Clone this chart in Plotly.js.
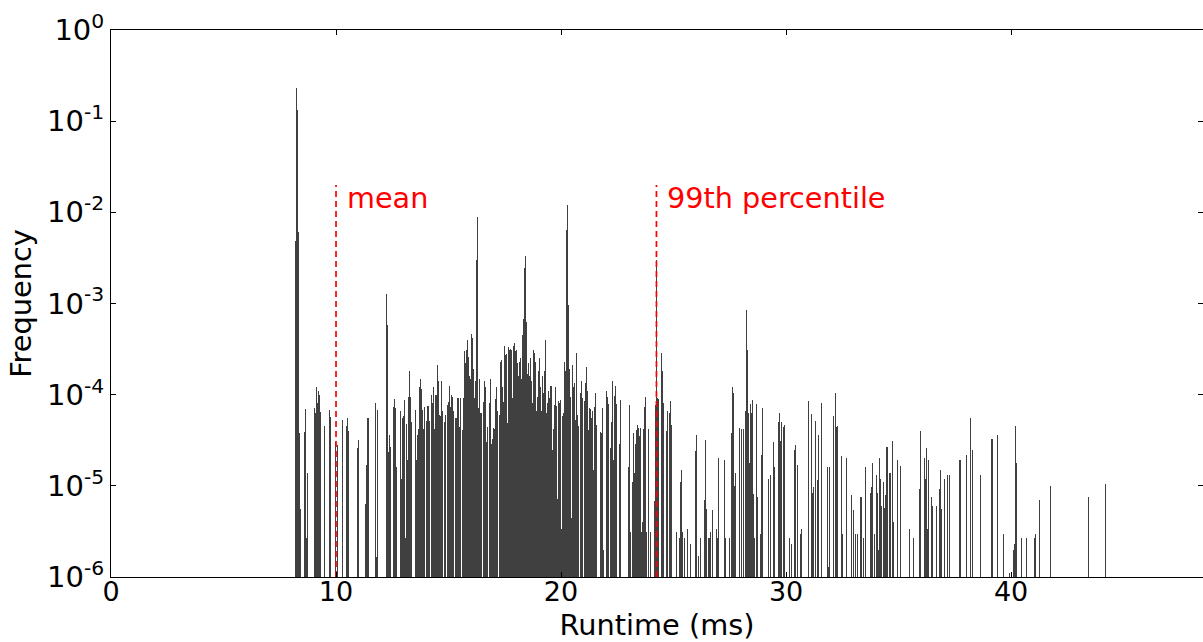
<!DOCTYPE html>
<html>
<head>
<meta charset="utf-8">
<script src="https://cdn.plot.ly/plotly-3.0.1.min.js"></script>
<style>html,body{margin:0;padding:0;background:#fff;}#chart{width:1203px;height:642px;}</style>
</head>
<body>
<div id="chart"></div>
<script>
// Histogram bin centres (ms)
var runtimeMs = [
8.200,8.244,8.289,8.333,8.378,8.422,8.600,8.644,8.689,8.733,
9.044,9.089,9.133,9.178,9.222,9.267,9.311,9.489,9.711,9.756,9.978,
10.067,10.289,10.467,10.511,10.556,10.956,11.000,11.311,11.356,11.400,11.444,11.756,11.800,11.844,
12.244,12.289,12.333,12.378,12.422,12.556,12.600,12.644,12.689,12.867,12.911,12.956,
13.000,13.044,13.089,13.133,13.178,13.222,13.267,13.311,13.356,13.533,13.578,13.622,13.667,13.711,13.756,13.800,13.844,13.889,13.933,
14.022,14.067,14.111,14.156,14.244,14.289,14.333,14.378,14.422,14.467,14.511,14.556,14.600,14.644,14.689,14.733,14.822,14.867,14.956,
15.000,15.044,15.089,15.133,15.178,15.222,15.311,15.356,15.400,15.444,15.489,15.533,15.622,15.667,15.711,15.756,15.800,15.844,15.889,15.933,15.978,
16.022,16.067,16.111,16.156,16.200,16.244,16.289,16.333,16.378,16.422,16.467,16.556,16.600,16.644,16.689,16.733,16.822,16.867,16.911,16.956,
17.000,17.044,17.089,17.133,17.178,17.267,17.311,17.356,17.400,17.444,17.489,17.533,17.578,17.622,17.667,17.711,17.756,17.800,17.844,17.889,17.933,17.978,
18.022,18.067,18.111,18.156,18.200,18.244,18.289,18.333,18.378,18.422,18.467,18.511,18.556,18.600,18.644,18.689,18.733,18.778,18.822,18.867,18.911,18.956,
19.000,19.044,19.089,19.133,19.178,19.222,19.267,19.311,19.356,19.400,19.444,19.489,19.533,19.578,19.622,19.667,19.711,19.756,19.800,19.844,19.889,19.933,19.978,
20.022,20.067,20.111,20.156,20.200,20.244,20.289,20.333,20.378,20.422,20.467,20.511,20.556,20.600,20.644,20.689,20.733,20.778,20.867,20.911,20.956,
21.044,21.089,21.133,21.178,21.222,21.267,21.311,21.356,21.400,21.444,21.489,21.533,21.578,21.756,21.800,21.844,21.889,
22.022,22.067,22.111,22.200,22.244,22.289,22.333,22.378,22.422,22.467,22.600,22.644,
23.000,23.044,23.089,23.178,23.222,23.267,23.311,23.356,23.400,23.444,23.489,23.533,23.578,23.622,23.667,23.711,23.756,23.800,23.889,23.978,
24.156,24.200,24.244,24.289,24.333,24.467,24.511,24.556,24.689,24.733,24.822,24.867,24.911,
25.133,25.267,25.311,25.356,25.400,25.489,25.622,25.756,25.978,26.022,26.111,26.200,26.378,26.422,26.467,26.556,26.600,26.644,26.733,26.911,26.956,
27.000,27.267,27.311,27.489,27.578,27.622,27.667,27.711,27.756,27.933,
28.022,28.111,28.200,28.244,28.289,28.333,28.378,28.422,28.467,28.511,28.556,28.600,28.689,28.733,28.867,28.911,28.956,
29.222,29.311,29.444,29.489,29.667,29.711,29.756,29.800,29.889,29.933,
30.156,30.244,30.378,30.422,30.511,30.644,30.689,31.000,31.133,31.178,31.222,31.311,31.400,31.444,31.578,31.844,31.889,31.933,
32.111,32.200,32.244,32.289,32.467,32.511,32.689,32.911,33.000,33.089,33.178,33.311,33.356,33.444,33.533,33.756,33.800,33.844,33.933,
34.022,34.067,34.111,34.156,34.200,34.244,34.333,34.378,34.422,34.467,34.511,34.600,34.644,34.733,34.778,34.956,
35.089,35.489,35.667,35.933,35.978,36.156,36.200,36.244,36.289,36.333,36.467,36.511,36.689,36.822,36.867,36.911,
37.044,37.178,37.267,37.711,37.756,38.022,38.200,38.289,38.644,39.133,39.178,39.400,39.667,39.933,
40.111,40.156,40.200,40.244,40.467,40.689,41.044,41.089,41.267,41.756,43.444,44.200
];
// Relative frequency of each bin
var frequency = [
4.9e-3,0.23,0.133,6.1e-3,3.8e-5,5.6e-6,3.9e-5,7.0e-5,2.7e-6,1.4e-5,
7.2e-5,6.3e-5,1.2e-4,8.1e-5,1.1e-4,1.0e-4,6.5e-5,4.5e-5,6.8e-5,5.7e-5,3.0e-5,
2.8e-5,5.3e-5,4.5e-5,5.6e-5,4.0e-5,2.6e-5,3.2e-5,6.3e-6,1.7e-5,5.6e-5,5.6e-5,8.1e-5,1.66e-6,6.8e-5,
1.27e-3,5.8e-4,2.35e-5,3.6e-5,2.7e-5,7.4e-5,9.0e-5,7.2e-5,1.6e-5,6.7e-5,1.2e-5,5.5e-5,
5.8e-5,8.7e-5,2.7e-6,4.8e-5,1.9e-5,9.5e-5,1.8e-4,9.5e-5,5.0e-5,6.8e-5,1.9e-5,3.6e-5,4.2e-5,1.2e-4,1.5e-4,1.15e-4,6.8e-5,4.2e-5,7.4e-5,
5.2e-5,7.6e-5,7.6e-5,5.1e-5,1.0e-4,8.1e-5,1.2e-4,4.2e-5,1.0e-4,1.0e-4,2.1e-4,1.4e-4,6.0e-5,5.9e-5,1.4e-4,6.7e-5,5.0e-5,6.0e-5,7.8e-5,
8.3e-5,1.25e-4,7.4e-5,1.0e-4,9.5e-5,6.7e-5,5.5e-5,5.5e-5,9.3e-5,9.3e-5,4.4e-5,9.3e-5,4.1e-5,9.3e-5,3.0e-4,2.2e-4,3.1e-4,4.0e-4,2.6e-4,1.6e-4,1.5e-4,
4.6e-4,4.2e-4,1.9e-4,9.3e-5,1.4e-4,3.0e-3,9.0e-3,7.2e-5,1.5e-4,6.3e-5,6.3e-5,8.3e-5,1.4e-4,1.2e-4,3.0e-5,4.4e-5,8.1e-5,1.5e-4,2.9e-5,3.3e-5,
4.3e-5,4.2e-5,9.0e-5,1.2e-4,6.7e-5,6.0e-5,2.3e-4,2.4e-4,1.2e-4,8.3e-5,3.4e-4,2.7e-4,2.8e-4,4.9e-5,3.3e-4,3.1e-4,3.2e-4,3.1e-4,9.3e-5,3.4e-4,3.7e-4,3.0e-4,
3.1e-4,2.2e-4,1.6e-4,2.3e-4,2.5e-4,1.5e-4,4.5e-4,6.8e-4,2.45e-3,3.3e-3,6.3e-4,1.7e-4,2.2e-4,1.6e-4,2.5e-4,1.4e-4,8.1e-5,3.1e-4,2.9e-4,2.3e-4,6.7e-5,9.5e-5,
1.8e-4,2.5e-4,1.2e-4,6.7e-5,1.6e-4,1.05e-4,1.8e-4,4.0e-4,6.3e-5,8.1e-5,1.1e-4,9.3e-5,1.25e-4,1.25e-4,2.5e-5,4.2e-5,7.8e-5,1.2e-4,7.6e-5,7.1e-6,8.5e-5,8.1e-5,8.8e-5,
3.4e-6,5.9e-5,6.3e-5,2.3e-4,1.8e-4,6.4e-3,1.2e-2,9.6e-4,1.9e-4,9.5e-5,4.4e-6,2.1e-4,1.2e-4,1.35e-4,5.3e-5,2.9e-4,6.0e-5,4.5e-5,1.05e-4,1.4e-4,9.3e-5,
8.5e-5,1.35e-4,2.0e-4,1.1e-4,4.1e-5,7.2e-5,7.0e-5,5.6e-5,6.7e-5,1.5e-5,7.4e-5,1.05e-4,4.7e-5,3.9e-5,3.8e-5,7.2e-5,2.0e-6,
1.1e-4,9.5e-5,7.9e-5,2.6e-5,5.0e-5,1.4e-4,1.9e-5,9.7e-5,1.25e-4,7.9e-5,2.9e-5,8.8e-5,
1.6e-5,7.8e-5,3.1e-6,1.1e-5,3.8e-5,1.4e-5,2.9e-5,4.1e-5,4.7e-5,4.3e-5,3.5e-5,4.3e-5,3.1e-6,4.0e-6,4.2e-5,7.4e-5,9.5e-5,3.1e-6,4.2e-5,3.1e-6,
6.8e-6,7.8e-5,3.0e-3,9.3e-5,9.0e-5,2.9e-4,1.8e-4,8.1e-5,4.0e-5,6.7e-5,6.3e-5,8.5e-5,4.7e-5,
3.1e-6,2.7e-6,1.1e-5,1.5e-5,3.1e-6,2.7e-6,3.4e-6,2.3e-6,2.4e-5,3.6e-5,1.7e-6,2.7e-6,7.0e-6,3.2e-5,5.6e-6,2.7e-6,2.7e-6,3.1e-6,5.4e-6,3.4e-6,2.7e-6,
2.0e-5,1.9e-5,2.7e-6,2.7e-6,3.8e-5,1.2e-4,1.05e-4,1.0e-5,1.4e-5,4.3e-5,
4.2e-5,4.2e-5,6.7e-5,8.5e-4,3.1e-4,6.3e-5,1.8e-5,7.9e-5,6.3e-5,8.8e-5,8.2e-6,2.7e-6,7.9e-5,7.5e-6,3.0e-6,2.2e-5,7.2e-5,
1.2e-5,1.3e-5,3.0e-5,1.6e-5,5.0e-5,6.3e-5,3.1e-5,5.0e-5,4.4e-5,4.6e-5,
2.7e-6,2.3e-6,2.5e-5,2.8e-5,1.7e-5,3.0e-6,3.4e-6,8.5e-5,6.2e-5,8.4e-6,9.7e-6,5.2e-5,1.15e-5,3.6e-5,8.1e-5,1.6e-5,1.3e-6,1.6e-5,
5.8e-5,1.05e-4,4.4e-5,4.5e-5,2.1e-5,3.0e-6,2.0e-5,7.9e-6,5.4e-6,3.0e-6,3.0e-6,7.5e-6,7.5e-6,2.7e-6,1.6e-5,8.4e-6,9.7e-6,1.8e-5,3.0e-6,
1.3e-5,8.4e-6,2.0e-6,2.0e-5,1.2e-5,6.0e-6,1.1e-5,5.7e-6,7.9e-6,2.7e-5,2.7e-5,1.4e-5,1.4e-5,3.1e-5,4.0e-6,1.9e-5,
1.65e-5,3.4e-6,2.7e-6,9.3e-6,4.0e-5,2.0e-5,1.2e-5,2.6e-5,3.4e-6,1.9e-5,7.5e-6,6.0e-6,6.0e-6,9.3e-6,1.5e-5,5.6e-6,
1.2e-5,1.3e-5,1.3e-5,1.9e-5,1.9e-5,2.2e-5,5.5e-5,2.5e-5,1.3e-5,3.3e-5,3.3e-5,3.6e-5,3.0e-6,1.1e-6,
2.0e-6,2.3e-6,4.5e-5,1.8e-5,2.7e-6,2.7e-6,2.7e-6,3.0e-6,7.0e-6,1.0e-5,7.5e-6,1.05e-5
];
var binWidth = 0.0444;

// Reference markers
var markerNames = ['mean', '99th percentile'];
var markerValues = [10.0, 24.24];
var markerTop = 0.02;

// Axis ticks
var xTickVals = [0, 10, 20, 30, 40];
var xTickText = ['0', '10', '20', '30', '40'];
var yTickVals = [1e-6, 1e-5, 1e-4, 1e-3, 1e-2, 1e-1, 1];
var yTickText = ['10<sup>-6</sup>', '10<sup>-5</sup>', '10<sup>-4</sup>', '10<sup>-3</sup>', '10<sup>-2</sup>', '10<sup>-1</sup>', '10<sup>0</sup>'];

var FONT = 'DejaVu Sans, sans-serif';

var traces = [{
  type: 'bar',
  x: runtimeMs,
  y: frequency,
  width: binWidth,
  marker: {color: '#404040', line: {width: 0}},
  hoverinfo: 'x+y',
  showlegend: false
}];

var annotations = [];
for (var i = 0; i < markerValues.length; i++) {
  traces.push({
    type: 'scatter', mode: 'lines',
    x: [markerValues[i], markerValues[i]],
    y: [1e-6, markerTop],
    line: {color: '#ff0000', width: 1.7, dash: '6px,4px'},
    showlegend: false, hoverinfo: 'skip'
  });
  annotations.push({
    x: markerValues[i] + 0.39, y: Math.log10(0.0145),
    xref: 'x', yref: 'y',
    text: markerNames[i], showarrow: false,
    xanchor: 'left', yanchor: 'middle',
    font: {family: FONT, size: 28.7, color: '#ff0000'}
  });
}

var layout = {
  width: 1203, height: 642,
  margin: {l: 111, r: 0, t: 30, b: 65},
  paper_bgcolor: '#ffffff', plot_bgcolor: '#ffffff',
  bargap: 0,
  font: {family: FONT, size: 28, color: '#000'},
  xaxis: {
    range: [0, 48.53],
    tickmode: 'array', tickvals: xTickVals, ticktext: xTickText,
    ticks: 'inside', ticklen: 5, tickcolor: '#000', tickwidth: 1,
    ticklabelstandoff: -9,
    showline: true, linecolor: '#000', linewidth: 1, mirror: 'ticks',
    showgrid: false, zeroline: false,
    tickfont: {family: FONT, size: 27, color: '#000'},
    title: {text: 'Runtime (ms)', font: {family: FONT, size: 28.8, color: '#000'}, standoff: 12}
  },
  yaxis: {
    type: 'log',
    range: [-6, 0],
    tickmode: 'array', tickvals: yTickVals, ticktext: yTickText,
    ticks: 'inside', ticklen: 5, tickcolor: '#000', tickwidth: 1,
    showline: true, linecolor: '#000', linewidth: 1, mirror: 'ticks',
    showgrid: false, zeroline: false,
    tickfont: {family: FONT, size: 29, color: '#000'},
    title: {text: 'Frequency', font: {family: FONT, size: 28.8, color: '#000'}, standoff: 6}
  },
  annotations: annotations
};

Plotly.newPlot('chart', traces, layout, {staticPlot: true, displayModeBar: false});
</script>
</body>
</html>
